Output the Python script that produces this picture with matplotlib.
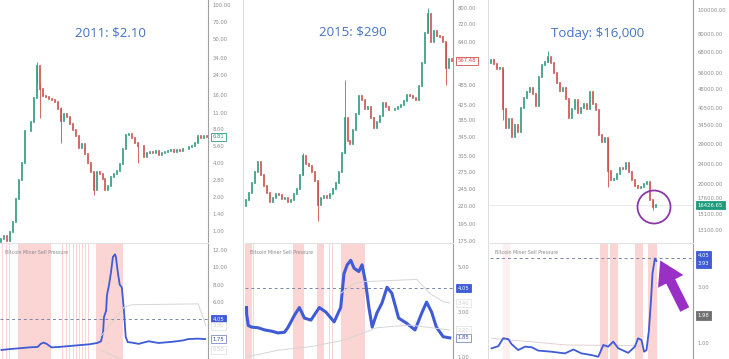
import matplotlib
matplotlib.use("Agg")
import matplotlib.pyplot as plt
import matplotlib.transforms as mtransforms
from matplotlib.patches import Ellipse, FancyArrowPatch
from matplotlib.lines import Line2D
from matplotlib.ticker import NullLocator, NullFormatter
import numpy as np

W, H = 729, 359

# ---------------- data ----------------
titles = ["2011: $2.10", "2015: $290", "Today: $16,000"]
legend_text = "Bitcoin Miner Sell Pressure"

p1_first_open = 0.80
p1_close = [0.85, 0.9, 0.82, 0.97, 1.2, 1.9, 2.8, 4.0, 7.6, 7.7,
            9.2, 15, 29, 18, 15.5, 15.2, 14.6, 14.3, 13.8, 12,
            9.5, 10.9, 10.3, 8.8, 7.8, 6.9, 5.4, 5.9, 4.8, 4.0,
            3.3, 2.3, 3.3, 3.2, 2.9, 2.3, 2.5, 3.0, 3.2, 3.4,
            3.9, 5.3, 7.1, 7.2, 6.6, 6.0, 5.6, 5.7, 4.5, 4.9,
            5.0, 4.9, 5.1, 4.7, 4.9, 5.0, 5.1, 5.2, 5.0, 5.2,
            5.1, 5.3, 5.3, 5.5, 5.6, 6.0, 6.9, 6.7, 6.9, 6.81]
p1_wicks = {12: (31, 20), 13: (20, 10.0), 20: (12.5, 6.0), 31: (3.3, 2.1), 46: (5.8, 4.0)}
p1_ticks = [100, 70, 50, 34, 24, 16, 11, 8, 5.6, 4, 2.8, 2, 1.4, 1]

p2_first_open = 220
p2_close = [228, 240, 255, 275, 293, 270, 250, 240, 225, 232,
            238, 236, 230, 232, 226, 228, 238, 245, 270, 305,
            290, 285, 275, 258, 222, 232, 235, 232, 238, 245,
            255, 275, 310, 390, 335, 330, 360, 400, 450, 440,
            415, 420, 390, 365, 380, 395, 430, 420, 410, 412,
            415, 420, 425, 435, 455, 450, 445, 440, 480, 560,
            680, 770, 640, 690, 665, 660, 640, 540, 575, 567.48]
p2_wicks = {24: (258, 200), 33: (500, 310), 61: (800, 680), 67: (640, 485), 19: (310, 270)}
p2_ticks = [800, 720, 640, 485, 425, 385, 345, 305, 275, 245, 220, 195, 175]

p3_first_open = 61000
p3_close = [63000, 60500, 58000, 58500, 40000, 33500, 36500, 31000, 34500, 32500,
            40500, 44500, 47000, 48500, 46000, 41000, 54000, 60000, 62000, 64500,
            61500, 56000, 51000, 47500, 48500, 44000, 37000, 40000, 43500, 38500,
            40500, 42000, 40000, 47000, 42000, 39500, 31500, 29500, 30500, 22500,
            20800, 21000, 22000, 23300, 22900, 24200, 22300, 20800, 19600, 19300,
            19500, 20000, 20400, 17200, 16200, 16426.65]
p3_wicks = {4: (58000, 36000), 19: (68500, 62000), 39: (30500, 19500), 54: (17200, 15700)}
p3_ticks = [100000, 80000, 68000, 56000, 48000, 40500, 34500, 29000, 24000, 20000, 17600, 15100, 13100]

i1_x = [0, 2.8, 6.2, 9.5, 12.2, 13.2, 14.2, 15.2, 16.8, 19.5, 22.8, 26.2, 29.5, 32.2, 33.5,
        34.2, 34.5, 35.2, 35.5, 36.2, 36.8, 37.5, 38.2, 38.5, 39.2, 39.8, 40.5, 41.2, 41.8,
        42.5, 43.8, 46.2, 47.8, 49.5, 51.2, 52.8, 56.2, 57.8, 61.2, 62.8, 66.2, 68.5]
i1_v = [0.5, 0.6, 0.7, 0.8, 0.85, 1.2, 1.35, 1.2, 0.8, 0.85, 0.95, 1.05, 1.15, 1.3, 1.5,
        2.6, 4.3, 5.0, 6.8, 8.0, 9.3, 11.2, 11.5, 11.2, 9.3, 8.0, 7.7, 5.1, 2.0,
        1.4, 1.35, 1.2, 1.35, 1.5, 1.4, 1.3, 1.4, 1.45, 1.6, 1.75, 1.8, 1.75]
i1_up_x = [33.2, 36.2, 41.2, 43.8, 66.2, 68.8]
i1_up_v = [2.0, 3.2, 5.4, 5.7, 5.8, 3.3]
i1_lo_x = [33.2, 40.5]
i1_lo_v = [0.5, -0.6]
i1_bands = [(5.5, 16.8), (31.8, 40.8)]
i1_thin = [0.2, 1.8, 2.8, 20.5, 21.8, 22.8, 24.2, 25.2, 26.2, 27.2, 28.2, 29.2, 29.8, 30.8]
i1_ticks = [12, 10, 8, 6]

i2_x = [0, 0.05, 0.6, 1.7, 3.9, 6.2, 8.4, 10.6, 12.8, 13.9, 16.2, 17.8, 19.5, 21.7, 24.5,
        26.7, 29.5, 31.7, 32.8, 33.9, 35.1, 36.2, 37.8, 38.9, 40.1, 41.2, 42.3, 43.9, 45.6,
        47.3, 48.9, 51.2, 53.9, 56.7, 59, 60.6, 62.3, 63.9, 66.2, 68.4]
i2_v = [3.2, 2.9, 2.4, 2.33, 2.3, 2.2, 2.15, 2.07, 2.1, 2.3, 2.87, 3.2, 2.73, 2.64, 3.2,
        3.0, 2.56, 3.2, 4.7, 5.1, 5.3, 4.95, 4.8, 5.1, 4.3, 3.2, 2.33, 2.96, 3.4,
        4.1, 3.84, 2.73, 2.5, 2.2, 2.96, 3.44, 3.0, 2.33, 1.9, 1.85]
i2_up_x = [31.7, 36.2, 39.5, 57.3, 61.7, 66.2, 68.4]
i2_up_v = [3.83, 4.27, 4.35, 4.45, 3.83, 3.46, 3.4]
i2_lo_x = [0, 10.6, 21.7, 32.8, 43.9, 55, 68.4]
i2_lo_v = [1.0, 1.3, 1.46, 1.75, 2.3, 2.42, 2.2]
i2_bands = [(-0.5, 1.8), (15.5, 19.2), (23.8, 26.2), (31.8, 39.8)]
i2_thin = [2.3, 27.8, 28.8]
i2_ticks = [5, 3, 1]

i3_x = [0.05, 2.3, 3.9, 5.6, 6.7, 8.9, 11.2, 13.4, 15.6, 20, 24.5, 27.3, 30, 33.4, 35.6,
        37.3, 38.9, 40.6, 42.3, 45.6, 47.8, 48.9, 50, 50.9, 51.7, 52.5, 53.2, 53.7, 54.5, 55]
i3_v = [0.81, 0.89, 1.17, 1.14, 0.96, 0.75, 0.87, 0.85, 0.73, 0.69, 0.63, 0.77, 0.63, 0.57, 0.51,
        0.93, 0.87, 1.05, 0.81, 0.65, 0.87, 1.17, 1.11, 0.69, 0.75, 1.46, 2.54, 3.49, 4.02, 3.93]
i3_gray_x = [0, 25, 50]
i3_gray_v = [1.17, 0.93, 0.9]
i3_bands = [(36.2, 38.8), (39.5, 42.2), (47.8, 50.5), (52.2, 55.2)]
i3_faint = [(3.8, 6.2)]
i3_ticks = [3, 1]

level = 4.05

# ---------------- style ----------------
GREEN = "#2e9a7e"
RED = "#cc4f4b"
BLUE = "#3f5bd6"
PINK = "#fbd4d4"
TITLE = "#4472c4"
LBL = "#8c8c8c"
FS = 3.8

fig = plt.figure(figsize=(W / 100, H / 100), dpi=100)
fig.patch.set_facecolor("white")


def ax_px(x0, y0, w, h):
    return fig.add_axes([x0 / W, 1 - (y0 + h) / H, w / W, h / H])


def style(ax, ticks, fmt="{:.2f}"):
    ax.set_xticks([])
    ax.set_yticks(ticks)
    ax.set_yticklabels([fmt.format(t) for t in ticks])
    ax.yaxis.set_minor_locator(NullLocator())
    ax.yaxis.set_minor_formatter(NullFormatter())
    ax.yaxis.tick_right()
    ax.tick_params(axis="y", length=0, pad=3.5, labelsize=FS, labelcolor=LBL)
    for s in ["left", "bottom", "top"]:
        ax.spines[s].set_visible(False)
    ax.spines["right"].set_color("#a0a0a0")
    ax.spines["right"].set_linewidth(0.8)


def candles(ax, closes, first_open, wicks):
    closes = np.array(closes, dtype=float)
    opens = np.concatenate([[first_open], closes[:-1]])
    x = np.arange(len(closes))
    cols = np.where(closes >= opens, GREEN, RED)
    for i, (hi, lo) in wicks.items():
        ax.vlines(i, lo, hi, color=cols[i], lw=0.6)
    ax.vlines(x, np.minimum(opens, closes), np.maximum(opens, closes),
              colors=cols, lw=1.2, capstyle="projecting")


def box(ax, y, text, fc, ec, tc, va="center", alpha=1.0):
    tr = mtransforms.blended_transform_factory(ax.transAxes, ax.transData)
    ax.annotate(text, xy=(1, y), xycoords=tr, xytext=(3.5, 0), textcoords="offset points",
                fontsize=FS, color=tc, va=va, ha="left", annotation_clip=False, alpha=alpha,
                bbox=dict(boxstyle="square,pad=0.3", fc=fc, ec=ec, lw=0.6, alpha=alpha))


def indicator(ax, xs, vs, bands, thin, lw=1.3):
    for a, b in bands:
        ax.axvspan(a, b, color=PINK, lw=0)
    for t in thin:
        ax.axvspan(t - 0.15, t + 0.15, color=PINK, lw=0)
    ax.axhline(level, color="#7a86a8", lw=0.7, ls=(0, (3, 3)))
    ax.plot(xs, vs, color=BLUE, lw=lw, solid_joinstyle="round")


PH, IH = 243, 116

# ---------- Panel 1 ----------
a1 = ax_px(0, 0, 208, PH)
a1.set_yscale("log")
candles(a1, p1_close, p1_first_open, p1_wicks)
a1.set_xlim(-0.5, 69.5)
a1.set_ylim(0.783, 110.7)
style(a1, p1_ticks)
box(a1, p1_close[-1], "6.81", "white", GREEN, GREEN)

b1 = ax_px(0, PH, 208, IH)
indicator(b1, i1_x, i1_v, i1_bands, i1_thin)
b1.plot(i1_up_x, i1_up_v, color="#d6d6d6", lw=0.7)
b1.plot(i1_lo_x, i1_lo_v, color="#d6d6d6", lw=0.7)
b1.set_xlim(-0.5, 69.5)
b1.set_ylim(-0.54, 12.8)
style(b1, i1_ticks)
b1.spines["top"].set_visible(True)
b1.spines["top"].set_color("#e2e2e2")
box(b1, level, "4.05", BLUE, BLUE, "white")
box(b1, i1_up_v[-1], "3.30", "white", "#e4e4e4", "#d0d0d0")
box(b1, i1_v[-1], "1.75", "white", "#7d8fc0", "#3a4f9a")
box(b1, 0.5, "0.50", "white", "#e4e4e4", "#d0d0d0")

# ---------- Panel 2 ----------
a2 = ax_px(245, 0, 208, PH)
a2.set_yscale("log")
candles(a2, p2_close, p2_first_open, p2_wicks)
a2.set_xlim(-0.5, 69.5)
a2.set_ylim(172.7, 842.9)
style(a2, p2_ticks)
box(a2, p2_close[-1], "567.48", "white", RED, RED)

b2 = ax_px(245, PH, 208, IH)
indicator(b2, i2_x, i2_v, i2_bands, i2_thin, lw=2.2)
b2.plot(i2_up_x, i2_up_v, color="#d6d6d6", lw=0.7)
b2.plot(i2_lo_x, i2_lo_v, color="#d6d6d6", lw=0.7)
b2.set_xlim(-0.5, 69.5)
b2.set_ylim(0.91, 6.07)
style(b2, i2_ticks)
b2.spines["top"].set_visible(True)
b2.spines["top"].set_color("#e2e2e2")
box(b2, level, "4.05", BLUE, BLUE, "white")
box(b2, i2_up_v[-1], "3.40", "white", "#e4e4e4", "#d0d0d0")
box(b2, i2_lo_v[-1], "2.20", "white", "#e4e4e4", "#d0d0d0")
box(b2, i2_v[-1], "1.85", "white", "#7d8fc0", "#3a4f9a")

# ---------- Panel 3 ----------
a3 = ax_px(490, 0, 203, PH)
a3.set_yscale("log")
a3.axhline(p3_close[-1], color="#e8e8e8", lw=0.6)
candles(a3, p3_close, p3_first_open, p3_wicks)
a3.set_xlim(-0.5, 67.2)
a3.set_ylim(11592, 109700)
style(a3, p3_ticks)
box(a3, p3_close[-1], "16426.65", "#1f9a7c", "#1f9a7c", "white")

b3 = ax_px(490, PH, 203, IH)
for a, b in i3_faint:
    b3.axvspan(a, b, color=PINK, alpha=0.35, lw=0)
b3.plot(i3_gray_x, i3_gray_v, color="#e6d0d0", lw=0.7)
indicator(b3, i3_x, i3_v, i3_bands, [], lw=1.3)
b3.set_xlim(-0.5, 67.2)
b3.set_ylim(0.43, 4.57)
style(b3, i3_ticks)
b3.spines["top"].set_visible(True)
b3.spines["top"].set_color("#e2e2e2")
box(b3, level, "4.05", BLUE, BLUE, "white", va="bottom")
box(b3, i3_v[-1], "3.93", BLUE, BLUE, "white", va="top")
box(b3, 1.98, "1.98", "#6f6f6f", "#6f6f6f", "white")

# ---------- titles & legends ----------
title_pos = [(110, 33), (353, 32), (598, 33)]
for (tx, ty), t in zip(title_pos, titles):
    fig.text(tx / W, 1 - ty / H, t, ha="center", va="center", fontsize=9.5,
             color=TITLE, family=["Open Sans", "DejaVu Sans"])
for lx in [5, 250, 495]:
    fig.text(lx / W, 1 - 252 / H, legend_text, ha="left", va="center", fontsize=3.4, color="#8a8a8a")

# separators
for sx in [243, 488]:
    fig.add_artist(Line2D([sx / W, sx / W], [0, 1], color="#dcdcdc", lw=0.7, transform=fig.transFigure))

# circle & arrow
fig.add_artist(Ellipse((654 / W, 1 - 207 / H), 33 / W, 33 / H, transform=fig.transFigure,
                       fill=False, ec="#8a3aa8", lw=1.3))
fig.add_artist(FancyArrowPatch((686 / W, 1 - 312 / H), (659 / W, 1 - 258 / H),
                               transform=fig.transFigure,
                               arrowstyle="simple,head_length=1.4,head_width=1.7,tail_width=0.6",
                               mutation_scale=12, color="#9a2fc6", lw=0))

fig.savefig("out.png", dpi=100)
